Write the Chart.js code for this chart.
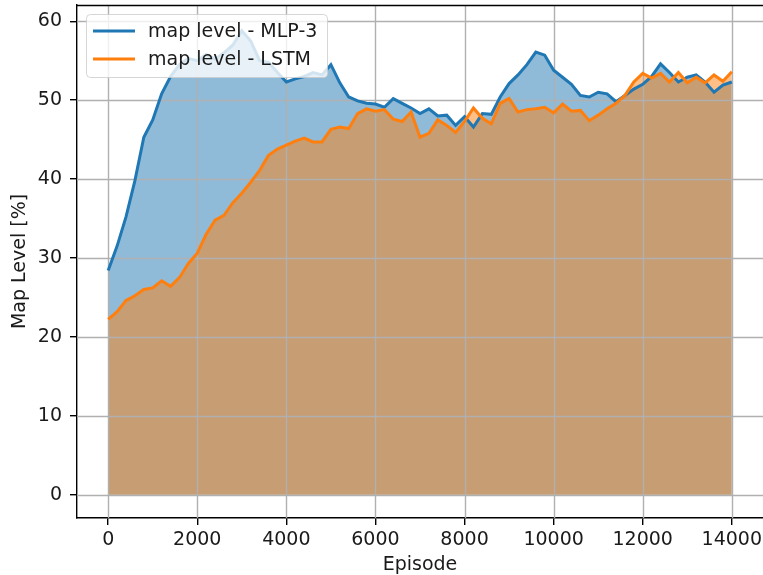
<!DOCTYPE html>
<html>
<head>
<meta charset="utf-8">
<script src="https://cdn.jsdelivr.net/npm/chart.js@4.4.1/dist/chart.umd.min.js"></script>
<style>
html,body{margin:0;padding:0;background:#fff;}
canvas{display:block;}
</style>
</head>
<body>
<canvas id="c" width="763" height="575"></canvas>
<script>
const episodes = [0,200,400,600,800,1000,1200,1400,1600,1800,2000,2200,2400,2600,2800,3000,3200,3400,3600,3800,4000,4200,4400,4600,4800,5000,5200,5400,5600,5800,6000,6200,6400,6600,6800,7000,7200,7400,7600,7800,8000,8200,8400,8600,8800,9000,9200,9400,9600,9800,10000,10200,10400,10600,10800,11000,11200,11400,11600,11800,12000,12200,12400,12600,12800,13000,13200,13400,13600,13800,14000];
const mlpLevel = [28.4,31.5,35.2,39.8,45.3,47.5,50.8,53.0,54.5,55.3,55.0,55.8,55.2,56.0,57.0,58.8,57.5,55.0,54.8,53.5,52.3,52.7,53.0,53.5,53.2,54.5,52.2,50.4,49.9,49.6,49.5,49.1,50.2,49.6,49.0,48.3,48.9,48.0,48.1,46.8,47.9,46.6,48.3,48.2,50.4,52.1,53.2,54.5,56.1,55.7,53.8,52.9,52.0,50.6,50.4,51.0,50.8,49.8,50.6,51.4,52.0,53.0,54.6,53.5,52.3,52.9,53.2,52.3,51.0,51.9,52.3];
const lstmLevel = [22.2,23.2,24.6,25.2,26.0,26.2,27.1,26.4,27.5,29.3,30.6,33.0,34.8,35.4,37.0,38.2,39.6,41.1,43.0,43.8,44.3,44.8,45.2,44.7,44.7,46.3,46.6,46.4,48.3,48.9,48.6,48.8,47.6,47.3,48.5,45.3,45.8,47.5,46.8,45.9,47.3,49.0,47.7,47.0,49.6,50.2,48.5,48.8,48.9,49.1,48.4,49.5,48.6,48.7,47.4,48.1,48.9,49.6,50.6,52.3,53.4,52.8,53.4,52.3,53.5,52.2,52.9,52.2,53.2,52.4,53.6];
const xTicks = [0,2000,4000,6000,8000,10000,12000,14000];
const yTicks = [0,10,20,30,40,50,60];
const seriesNames = ['map level - MLP-3','map level - LSTM'];
const seriesColors = ['#1f77b4','#ff7f0e'];
const fillColors = ['rgba(31,119,180,0.5)','rgba(255,127,14,0.5)'];

const FONT = 'DejaVu Sans';
const FS = 19;

const gridPlugin = {
  id: 'mplGrid',
  beforeDatasetsDraw(chart) {
    const {ctx, chartArea: a, scales: {x, y}} = chart;
    ctx.save();
    ctx.strokeStyle = '#b0b0b0';
    ctx.lineWidth = 1.4;
    ctx.beginPath();
    xTicks.forEach(v => { const px = Math.round(x.getPixelForValue(v)) + 0.5; ctx.moveTo(px, a.top); ctx.lineTo(px, a.bottom); });
    yTicks.forEach(v => { const py = Math.round(y.getPixelForValue(v)) + 0.5; ctx.moveTo(a.left, py); ctx.lineTo(a.right, py); });
    ctx.stroke();
    ctx.restore();
  },
  afterDraw(chart) {
    const {ctx, chartArea: a} = chart;
    ctx.save();
    ctx.strokeStyle = '#000';
    ctx.lineWidth = 1.4;
    ctx.beginPath();
    ctx.moveTo(a.left, a.top + 0.5); ctx.lineTo(a.right, a.top + 0.5);
    ctx.stroke();
    const bx = 86.5, by = 14.5, bw = 241, bh = 63, r = 4;
    ctx.beginPath();
    ctx.moveTo(bx + r, by);
    ctx.arcTo(bx + bw, by, bx + bw, by + bh, r);
    ctx.arcTo(bx + bw, by + bh, bx, by + bh, r);
    ctx.arcTo(bx, by + bh, bx, by, r);
    ctx.arcTo(bx, by, bx + bw, by, r);
    ctx.closePath();
    ctx.fillStyle = 'rgba(255,255,255,0.8)';
    ctx.fill();
    ctx.strokeStyle = 'rgba(204,204,204,0.8)';
    ctx.lineWidth = 1;
    ctx.stroke();
    const rows = [31, 59];
    ctx.font = FS + 'px "' + FONT + '"';
    ctx.textBaseline = 'middle';
    ctx.textAlign = 'left';
    seriesNames.forEach((name, i) => {
      ctx.strokeStyle = seriesColors[i];
      ctx.lineWidth = 3;
      ctx.beginPath();
      ctx.moveTo(93, rows[i]); ctx.lineTo(135, rows[i]);
      ctx.stroke();
      ctx.fillStyle = '#1a1a1a';
      ctx.fillText(name, 148, rows[i] + 1);
    });
    ctx.restore();
  }
};

const toPts = (vals) => episodes.map((e, i) => ({x: e, y: vals[i]}));

new Chart(document.getElementById('c'), {
  type: 'line',
  data: {
    datasets: [
      {label: seriesNames[0], data: toPts(mlpLevel), borderColor: seriesColors[0], backgroundColor: fillColors[0], fill: 'origin', borderWidth: 3, pointRadius: 0, tension: 0, order: 1},
      {label: seriesNames[1], data: toPts(lstmLevel), borderColor: seriesColors[1], backgroundColor: fillColors[1], fill: 'origin', borderWidth: 3, pointRadius: 0, tension: 0, order: 0}
    ]
  },
  options: {
    responsive: false,
    animation: false,
    devicePixelRatio: 1,
    layout: {padding: {left: 0, top: 5, right: 0, bottom: 0}},
    plugins: {
      legend: {display: false},
      tooltip: {enabled: false},
      filler: {drawTime: 'beforeDatasetsDraw'}
    },
    scales: {
      x: {
        type: 'linear',
        min: -700, max: 14700,
        afterBuildTicks: s => { s.ticks = xTicks.map(v => ({value: v})); },
        afterFit: s => { s.height = 57; s.paddingLeft = 0; s.paddingRight = 0; },
        grid: {drawOnChartArea: false, color: '#000', tickLength: 7, lineWidth: 1.4},
        border: {display: true, color: '#000', width: 1.4},
        ticks: {color: '#1a1a1a', font: {family: FONT, size: FS}, padding: 4, maxRotation: 0, autoSkip: false, callback: v => String(v)},
        title: {display: true, text: 'Episode', color: '#1a1a1a', font: {family: FONT, size: FS}, padding: {top: 0, bottom: -1}}
      },
      y: {
        type: 'linear',
        min: -2.96, max: 62.06,
        afterBuildTicks: s => { s.ticks = yTicks.map(v => ({value: v})); },
        afterFit: s => { s.width = 77; s.paddingTop = 0; s.paddingBottom = 0; },
        grid: {drawOnChartArea: false, color: '#000', tickLength: 7, lineWidth: 1.4},
        border: {display: true, color: '#000', width: 1.4},
        ticks: {color: '#1a1a1a', font: {family: FONT, size: FS}, padding: 8, autoSkip: false, callback: v => String(v)},
        title: {display: true, text: 'Map Level [%]', color: '#1a1a1a', font: {family: FONT, size: FS}, padding: {top: 9, bottom: 0}}
      }
    }
  },
  plugins: [gridPlugin]
});
</script>
</body>
</html>
